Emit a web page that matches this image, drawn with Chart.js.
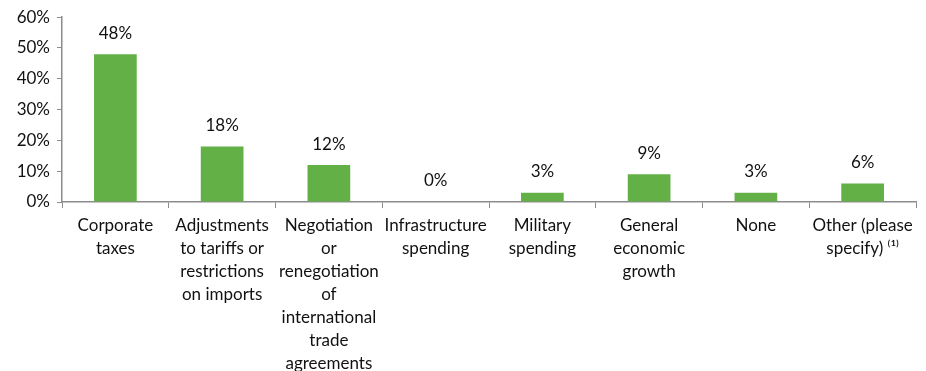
<!DOCTYPE html>
<html>
<head>
<meta charset="utf-8">
<script src="https://cdn.jsdelivr.net/npm/chart.js@4/dist/chart.umd.min.js"></script>
<style>
  html, body { margin: 0; padding: 0; background: #fff; }
  #wrap { width: 926px; height: 371px; }
</style>
</head>
<body>
<div id="wrap"><canvas id="chart"></canvas></div>
<script>
const categories = [
    ['Corporate', 'taxes'],
    ['Adjustments', 'to tariffs or', 'restrictions', 'on imports'],
    ['Negotiation', 'or', 'renegotiation', 'of', 'international', 'trade', 'agreements'],
    ['Infrastructure', 'spending'],
    ['Military', 'spending'],
    ['General', 'economic', 'growth'],
    ['None'],
    ['Other (please', 'specify) \u207D\u00B9\u207E']
];
const shares = [48, 18, 12, 0, 3, 9, 3, 6];
const yTicks = [0, 10, 20, 30, 40, 50, 60];

const FONT = 'Lato, "Open Sans", sans-serif';
const axisGrey = '#8c8c8c';
const textColor = '#111';

// writes the percentage above each bar
const valueLabels = {
    id: 'valueLabels',
    afterDatasetsDraw(chart) {
        const ctx = chart.ctx;
        const meta = chart.getDatasetMeta(0);
        ctx.save();
        ctx.font = '17px ' + FONT;
        ctx.fillStyle = textColor;
        ctx.textAlign = 'center';
        ctx.textBaseline = 'middle';
        meta.data.forEach((bar, i) => {
            ctx.fillText(shares[i] + '%', bar.x, bar.y - 21);
        });
        ctx.restore();
    }
};

new Chart(document.getElementById('chart'), {
    type: 'bar',
    data: {
        labels: categories,
        datasets: [{
            data: shares,
            backgroundColor: '#62b046',
            barPercentage: 0.4,
            categoryPercentage: 1.0
        }]
    },
    options: {
        responsive: true,
        maintainAspectRatio: false,
        animation: false,
        layout: { padding: { top: 15, right: 10, left: 0, bottom: 0 } },
        plugins: { legend: { display: false }, tooltip: { enabled: false } },
        scales: {
            x: {
                grid: {
                    display: true,
                    drawOnChartArea: false,
                    offset: true,
                    tickLength: 6,
                    color: axisGrey
                },
                border: { color: axisGrey, width: 1.5 },
                ticks: {
                    color: textColor,
                    font: { family: FONT, size: 17, lineHeight: 1.35 },
                    maxRotation: 0,
                    autoSkip: false,
                    padding: 6
                },
                afterFit(scale) { scale.height = 169; }
            },
            y: {
                min: 0,
                max: 60,
                afterBuildTicks(scale) {
                    scale.ticks = yTicks.map(v => ({ value: v }));
                },
                grid: {
                    display: true,
                    drawOnChartArea: false,
                    tickLength: 5,
                    color: axisGrey
                },
                border: { color: axisGrey, width: 1.5 },
                ticks: {
                    color: textColor,
                    font: { family: FONT, size: 17 },
                    padding: 7,
                    callback: v => v + '%'
                },
                afterFit(scale) { scale.width = 62; }
            }
        }
    },
    plugins: [valueLabels]
});
</script>
</body>
</html>
